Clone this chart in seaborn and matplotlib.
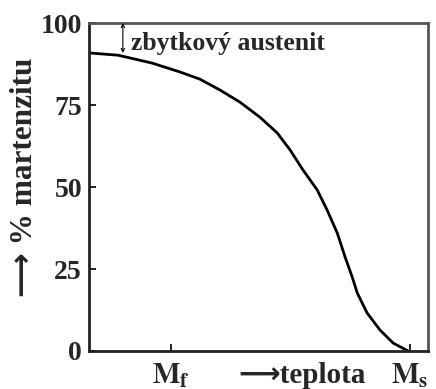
import matplotlib
matplotlib.use("Agg")
import matplotlib.pyplot as plt
import matplotlib.transforms as mtransforms
import seaborn as sns
import pandas as pd

# Data (temperature in arbitrary units 0..100)
teplota = [0, 8.6, 18.6, 26.8, 32.7, 38.6, 44.5, 50.4, 55.5, 59.3, 63.1, 67.3,
           70.2, 73.2, 75.5, 77.6, 79.1, 82.0, 85.8, 89.7, 94.1]
martenzit = [90.9, 90.2, 87.8, 85.1, 82.9, 79.6, 75.9, 71.3, 66.5, 61.3, 55.2, 49.1,
             43.0, 36.0, 28.7, 22.6, 17.7, 11.6, 6.4, 2.4, 0.0]
y_ticks = [0, 25, 50, 75, 100]
x_tick_pos = [24.2, 94.7]
x_tick_labels = [r"$\mathbf{M_f}$", r"$\mathbf{M_s}$"]
residual_top = 100
residual_bottom = 90.9

sns.set_theme(style="white")
plt.rcParams["font.family"] = ["Liberation Serif", "DejaVu Sans"]
plt.rcParams["font.weight"] = "bold"
plt.rcParams["mathtext.fontset"] = "stix"

df = pd.DataFrame({"teplota": teplota, "martenzit": martenzit})

fig = plt.figure(figsize=(4.36, 3.89), dpi=100)
ax = fig.add_axes([0.204, 0.0977, 0.778, 0.843])

sns.lineplot(data=df, x="teplota", y="martenzit", ax=ax, color="black", lw=2.0,
             solid_joinstyle="round")

ax.set_xlim(0, 100)
ax.set_ylim(0, 100)
ax.set_yticks(y_ticks)
ax.set_yticklabels([str(v) for v in y_ticks], fontsize=20, fontweight="bold")
ax.set_xticks(x_tick_pos)
ax.set_xticklabels(x_tick_labels, fontsize=21)
ax.tick_params(axis="both", direction="in", length=5, width=1.4, color="#222222")
ax.tick_params(axis="y", pad=5, left=True)
ax.tick_params(axis="x", pad=8, bottom=True)
ax.set_xlabel("")
ax.set_ylabel("⟶ % martenzitu", fontsize=22.5, fontweight="bold")
ax.yaxis.set_label_coords(-0.148, 0.53)

for side, sp in ax.spines.items():
    sp.set_visible(True)
    sp.set_linewidth(2.0)
    sp.set_color("#222222" if side in ("left", "bottom") else "#555555")

# residual austenite marker
ax.annotate("", xy=(10.0, residual_top), xytext=(10.0, residual_bottom),
            arrowprops=dict(arrowstyle="<->", lw=0.8, color="black",
                            mutation_scale=6, shrinkA=0, shrinkB=0))
ax.text(12.4, 91.8, "zbytkový austenit", fontsize=18.5, fontweight="bold",
        va="baseline", ha="left")

# temperature axis label
trans = mtransforms.blended_transform_factory(ax.transData, ax.transAxes)
ax.text(62.8, -0.035, "⟶teplota", transform=trans, fontsize=21,
        fontweight="bold", ha="center", va="top")

fig.savefig("out.png", dpi=100)
